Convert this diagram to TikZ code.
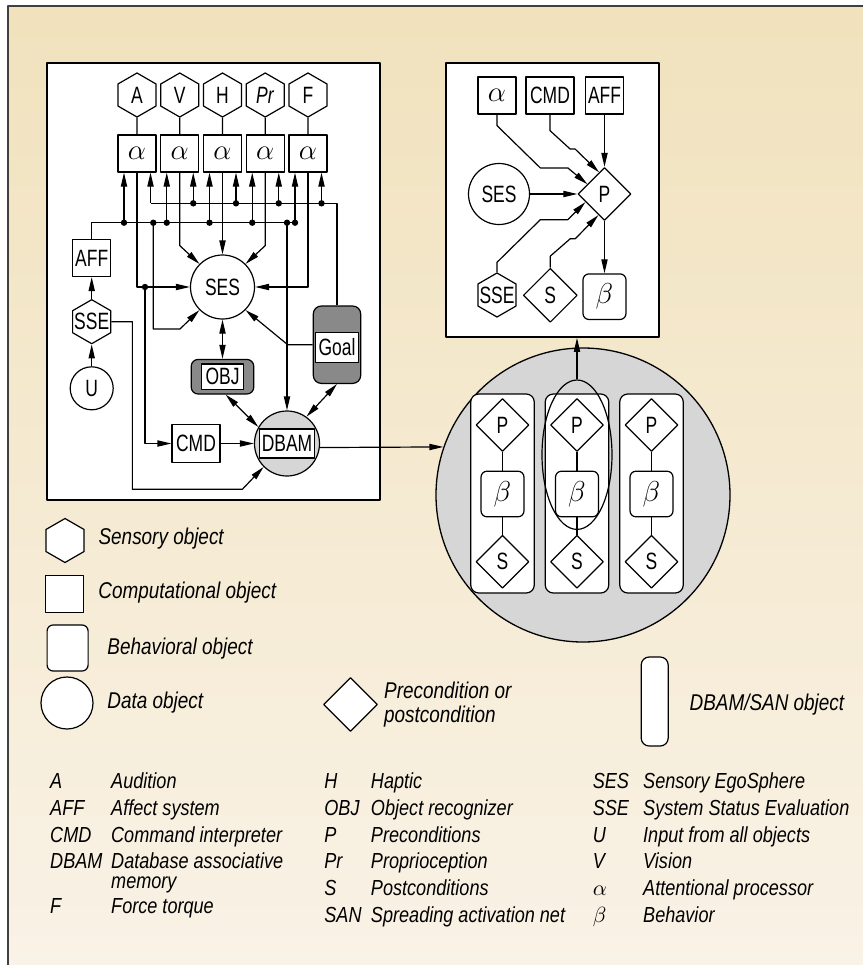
\documentclass[tikz,border=0pt]{standalone}
\usepackage{fontspec}
\setmainfont{Liberation Sans}[FakeStretch=0.74]
\newfontfamily\lgfont{Liberation Sans}[FakeStretch=0.83]
\usetikzlibrary{shapes.geometric,arrows.meta}
\definecolor{tantop}{RGB}{241,226,189}
\definecolor{tanbot}{RGB}{249,242,230}
\definecolor{darkobj}{RGB}{137,137,137}
\definecolor{lightobj}{RGB}{214,214,214}
\newcommand{\gk}[1]{{\fontsize{15}{15}\selectfont$#1$}}
\begin{document}
\begin{tikzpicture}[x=0.5pt, y=-0.5pt, line width=0.6pt, line join=round,
  >={Triangle[length=7pt,width=3.1pt]},
  font=\fontsize{11.8}{13}\selectfont,
  hexa/.style={draw, fill=white, regular polygon, regular polygon sides=6, shape border rotate=30, minimum size=22pt, inner sep=0pt},
  cbox/.style={draw, fill=white, minimum width=19pt, minimum height=18.5pt, inner sep=0pt},
  dobj/.style={draw, fill=white, circle, inner sep=0pt},
  cond/.style={draw, fill=white, diamond, aspect=1, minimum size=26.5pt, inner sep=0pt},
  bhv/.style={draw, fill=white, rounded corners=3pt, minimum width=21.5pt, minimum height=22.8pt, inner sep=0pt},
  gobj/.style={draw, fill=darkobj, rounded corners=4pt, inner sep=0pt},
  inbox/.style={draw, fill=white, inner sep=0pt},
  boxframe/.style={draw, fill=white, line width=0.9pt, inner sep=0pt},
  lgtext/.style={anchor=west, inner sep=0pt, font=\lgfont\itshape\fontsize{11.4}{12}\selectfont},
  abbr/.style={anchor=base west, inner sep=0pt, font=\lgfont\itshape\fontsize{10.9}{13.35}\selectfont}]
\useasboundingbox (0,0) rectangle (863,965);
\fill[white] (0,0) rectangle (863,965);
\shade[top color=tantop, bottom color=tanbot] (8,6) rectangle (863,965);
\draw[black!75] (8,965) -- (8,6) -- (863,6);

\node[boxframe, minimum width=166.5pt, minimum height=218.5pt] (lbox) at (213.5,281.5) {};
\node[boxframe, minimum width=106.5pt, minimum height=137pt] (rbox) at (552.5,200) {};
\node[draw, fill=lightobj, circle, inner sep=0pt, minimum size=147pt, line width=0.65pt] (big) at (583,495) {};

\foreach \n/\t [count=\i from 0] in {A/A, V/V, H/H, Pr/\textit{Pr}, F/F} {
  \node[hexa] (s\n) at (137+42.75*\i,95) {\t};
  \node[cbox] (a\n) at (137+42.75*\i,153.5) {\gk{\alpha}};
  \draw (s\n) -- (a\n);
  \coordinate (lb\n) at (124+42.75*\i,222.7);
  \coordinate (ub\n) at (150.5+42.75*\i,203.3);
}
\node[cbox] (aff) at (91.7,258) {AFF};
\node[hexa] (sse) at (91.7,321.7) {\makebox[0pt]{SSE}};
\node[dobj, minimum size=21.5pt] (u) at (91.7,388.3) {U};
\node[dobj, minimum size=32pt] (ses) at (222.5,287) {SES};
\node[gobj, rounded corners=3.5pt, minimum width=31.3pt, minimum height=17.3pt] (obj) at (222.5,376.7) {};
\node[inbox, minimum width=21.2pt, minimum height=12.7pt] (objin) at (obj) {OBJ};
\node[gobj, minimum width=23.7pt, minimum height=38.7pt] (goal) at (337,344.7) {};
\node[inbox, minimum width=21.3pt, minimum height=15.2pt] (goalin) at (337,347.5) {Goal};
\node[cbox, minimum width=24pt, minimum height=19pt] (cmd) at (196,443.5) {CMD};
\node[dobj, fill=lightobj, minimum size=32.5pt] (dbam) at (287,443.5) {};
\node[inbox, minimum width=27.8pt, minimum height=14.5pt] (dbamin) at (dbam) {DBAM};
\coordinate (lbs) at (153.3,222.7);
\coordinate (lbd) at (287,222.7);
\coordinate (da) at (145,287);

\draw (aff) |- (lbF);
\draw (goal) |- (ubA);
\foreach \n in {A,V,H,Pr,F} {
  \draw[->] (lb\n) -- (lb\n |- a\n.south);
  \draw[->] (ub\n) -- (ub\n |- a\n.south);
  \fill (lb\n) circle (1.6pt);
}
\foreach \n in {V,H,Pr,F} \fill (ub\n) circle (1.6pt);
\fill (lbs) circle (1.6pt) (lbd) circle (1.6pt) (da) circle (1.6pt);
\draw[->] (aA) |- (ses);
\draw[->] (aV.south) -- ++(0,73) -- (ses.135);
\draw[->] (aH) -- (ses);
\draw[->] (aPr.south) -- ++(0,73) -- (ses.45);
\draw[->] (aF) |- (ses);
\draw[->] (da) |- (cmd);
\draw[->] (lbs) -- ++(0,106.3) -- ++(26.7,0) -- (ses.225);
\draw[->] (lbd) -- (dbam);
\draw[->] (goal.west) -- ++(-25,0) -- (ses.-45);
\draw[<->] (ses) -- (obj);
\draw[<->] (obj.-80) -- (dbam.150);
\draw[<->] (goal.south) -- (dbam.54);
\draw[->] (cmd) -- (dbam);
\draw[->] (sse) -- (aff);
\draw[->] (u) -- (sse);
\draw[->] (sse.east) -- ++(21,0) -- ++(0,167.6) -- ++(110,0) -- (dbam.225);
\draw[->] (dbam.-7) -- (big.161);

\foreach \i in {0,1,2} {
  \node[draw, fill=white, rounded corners=4pt, minimum width=31.75pt, minimum height=99.5pt] (col\i) at (502.5+74.5*\i,493.5) {};
  \node[cond] (cp\i) at (502.5+74.5*\i,425) {P};
  \node[bhv] (cb\i) at (502.5+74.5*\i,494) {\gk{\beta}};
  \node[cond] (cs\i) at (502.5+74.5*\i,561.7) {S};
  \draw (cp\i) -- (cb\i);
  \draw (cb\i) -- (cs\i);
}
\node[draw, ellipse, minimum width=35pt, minimum height=74.7pt] (ell) at (577,454.7) {};
\draw[->] (ell.north) -- (ell.north |- rbox.south);

\node[cbox] (ra) at (497,95.5) {\gk{\alpha}};
\node[cbox, minimum width=24pt] (rcmd) at (550,95.5) {CMD};
\node[cbox] (raff) at (604.5,95.5) {AFF};
\node[cond] (p) at (604.5,194) {P};
\node[dobj, minimum size=30.5pt] (rses) at (499,194) {SES};
\node[hexa] (rsse) at (497,295) {\makebox[0pt]{SSE}};
\node[cond, minimum size=27pt] (rs) at (550.3,295.3) {S};
\node[bhv] (rb) at (604.5,296.7) {\gk{\beta}};
\draw[->] (ra.south) -- ++(0,11) -- ++(43.3,42.3) -- ++(27.5,0) -- (p.150);
\draw[->] (rcmd.south) -- ++(0,16) -- ++(20,18.3) -- ++(5,0) -- (p.104);
\draw[->] (raff) -- (p);
\draw[->] (rses) -- (p);
\draw[->] (rsse.north) -- ++(0,-10) -- ++(43.3,-42.6) -- ++(27.5,0) -- (p.203);
\draw[->] (rs.north) -- ++(0,-11.6) -- ++(20,-17.4) -- ++(5,0) -- (p.254);
\draw[->] (p) -- (rb);

\node[hexa] (lhex) at (65,540.5) {};
\node[cbox] (lcomp) at (64.4,594) {};
\node[bhv, minimum width=20.5pt, minimum height=23pt] (lbhv) at (67.6,648) {};
\node[dobj, minimum size=26pt] (ldata) at (67,703) {};
\node[cond, minimum size=27pt] (lcond) at (350.5,704.5) {};
\node[draw, fill=white, rounded corners=4pt, minimum width=13.5pt, minimum height=44.5pt] (lsan) at (654.7,701.5) {};
\node[lgtext] (thex) at (98,539) {Sensory object};
\node[lgtext] (tcomp) at (97.8,593) {Computational object};
\node[lgtext] (tbhv) at (106.8,649) {Behavioral object};
\node[lgtext] (tdata) at (106.8,703) {Data object};
\node[lgtext, align=left] (tcond) at (383.6,705) {Precondition or\\postcondition};
\node[lgtext] (tsan) at (689,705) {DBAM/SAN object};

\node[abbr] (lga) at (49.6,788.7) {\begin{tabular}[t]{@{}p{30.5pt}@{}l@{}}
A & Audition\\
AFF & Affect system\\
CMD & Command interpreter\\
DBAM & Database associative\\[-3.35pt]
 & memory\\[-0.85pt]
F & Force torque
\end{tabular}};
\node[abbr] (lgb) at (323.8,788.7) {\begin{tabular}[t]{@{}p{23.3pt}@{}l@{}}
H & Haptic\\
OBJ & Object recognizer\\
P & Preconditions\\
Pr & Proprioception\\
S & Postconditions\\
SAN & Spreading activation net
\end{tabular}};
\node[abbr] (lgc) at (592.2,788.7) {\begin{tabular}[t]{@{}p{25.2pt}@{}l@{}}
SES & Sensory EgoSphere\\
SSE & System Status Evaluation\\
U & Input from all objects\\
V & Vision\\
$\alpha$ & Attentional processor\\
$\beta$ & Behavior
\end{tabular}};
\end{tikzpicture}
\end{document}
